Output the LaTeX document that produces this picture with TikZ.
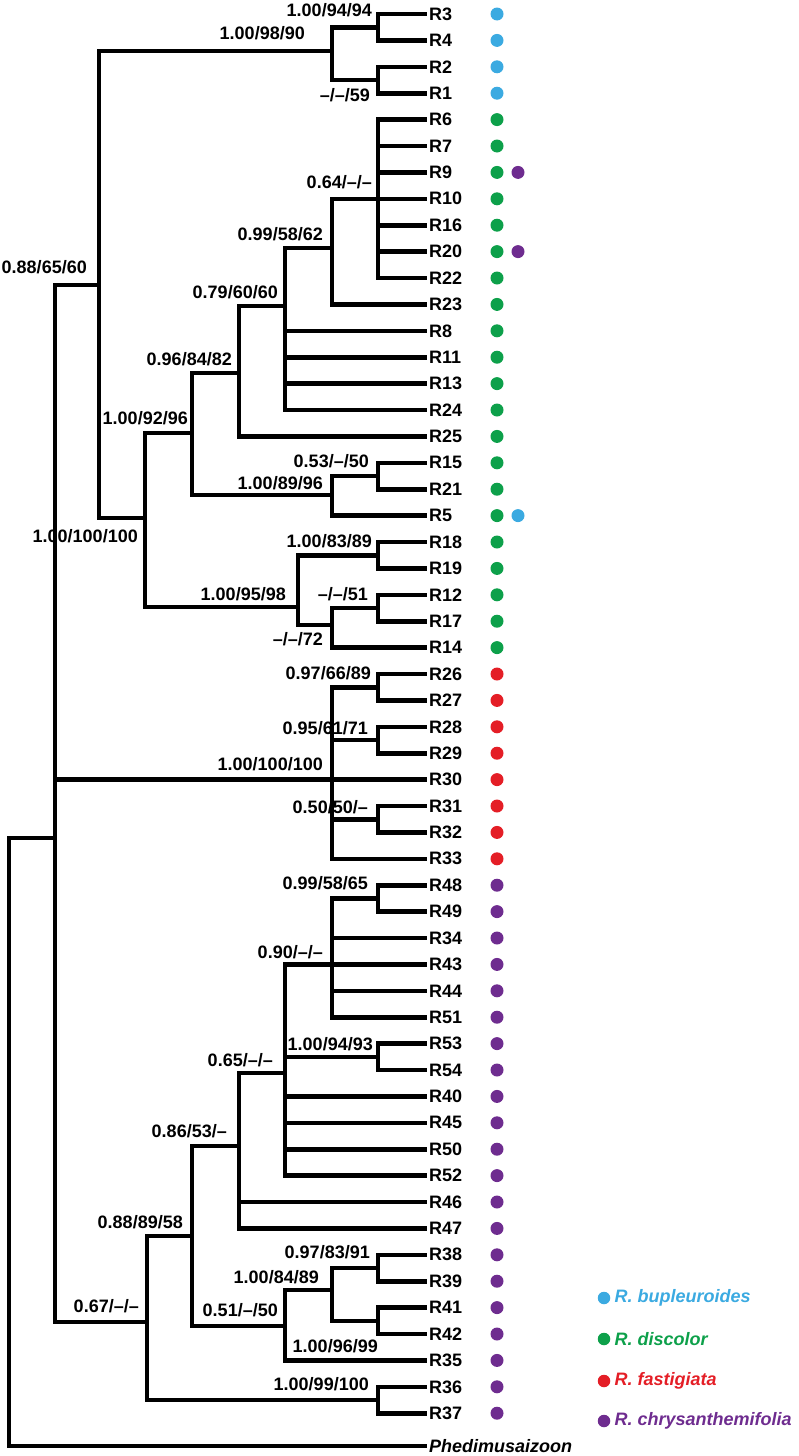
\documentclass[tikz,border=0pt]{standalone}
\usepackage{fontspec}
\setmainfont{Liberation Sans}
\usepackage{tikz}
\usetikzlibrary{positioning}
\definecolor{bupcol}{RGB}{59,170,225}
\definecolor{discol}{RGB}{13,160,74}
\definecolor{fascol}{RGB}{228,30,38}
\definecolor{chrcol}{RGB}{110,44,143}

\begin{document}
\begin{tikzpicture}[x=1pt, y=-1pt,
branch/.style = {line width=4.6pt, line join=miter},
leafnode/.style = {anchor=west, inner sep=2pt},
support/.style = {anchor=base east, inner sep=0pt},
dotnode/.style = {circle, fill=#1, inner sep=0pt, minimum size=13pt},
legend/.style = {inner sep=0pt, font=\fontsize{18}{20}\selectfont\bfseries\itshape}]
\tikzstyle{every node}=[font=\fontsize{18}{20}\selectfont\bfseries]
\useasboundingbox (0,0) rectangle (798,1456);

% junctions
\coordinate (n0) at (9,1142);
\coordinate (n1) at (55,838);
\coordinate (n2) at (99,285);
\coordinate (n3) at (332,51);
\coordinate (n4) at (378,27.2);
\coordinate (n5) at (378,80);
\coordinate (n6) at (145,518);
\coordinate (n7) at (192,433);
\coordinate (n8) at (239,373);
\coordinate (n9) at (285,306);
\coordinate (n10) at (332,248);
\coordinate (n11) at (378,198.8);
\coordinate (n12) at (332,495);
\coordinate (n13) at (378,476);
\coordinate (n14) at (298,607);
\coordinate (n15) at (378,555.2);
\coordinate (n16) at (332,625);
\coordinate (n17) at (378,608);
\coordinate (n18) at (332,779.6);
\coordinate (n19) at (378,687.2);
\coordinate (n20) at (378,740);
\coordinate (n21) at (378,819.2);
\coordinate (n22) at (147,1322);
\coordinate (n23) at (192,1236);
\coordinate (n24) at (239,1146);
\coordinate (n25) at (285,1073);
\coordinate (n26) at (332,964.4);
\coordinate (n27) at (378,898.4);
\coordinate (n28) at (378,1056.8);
\coordinate (n29) at (285,1326);
\coordinate (n30) at (332,1290);
\coordinate (n31) at (378,1268);
\coordinate (n32) at (378,1320.8);
\coordinate (n33) at (378,1400);

% leaves
\node[leafnode] (r3) at (427,14) {R3};
\node[leafnode] (r4) at (427,40.4) {R4};
\node[leafnode] (r2) at (427,66.8) {R2};
\node[leafnode] (r1) at (427,93.2) {R1};
\node[leafnode] (r6) at (427,119.6) {R6};
\node[leafnode] (r7) at (427,146) {R7};
\node[leafnode] (r9) at (427,172.4) {R9};
\node[leafnode] (r10) at (427,198.8) {R10};
\node[leafnode] (r16) at (427,225.2) {R16};
\node[leafnode] (r20) at (427,251.6) {R20};
\node[leafnode] (r22) at (427,278) {R22};
\node[leafnode] (r23) at (427,304.4) {R23};
\node[leafnode] (r8) at (427,330.8) {R8};
\node[leafnode] (r11) at (427,357.2) {R11};
\node[leafnode] (r13) at (427,383.6) {R13};
\node[leafnode] (r24) at (427,410) {R24};
\node[leafnode] (r25) at (427,436.4) {R25};
\node[leafnode] (r15) at (427,462.8) {R15};
\node[leafnode] (r21) at (427,489.2) {R21};
\node[leafnode] (r5) at (427,515.6) {R5};
\node[leafnode] (r18) at (427,542) {R18};
\node[leafnode] (r19) at (427,568.4) {R19};
\node[leafnode] (r12) at (427,594.8) {R12};
\node[leafnode] (r17) at (427,621.2) {R17};
\node[leafnode] (r14) at (427,647.6) {R14};
\node[leafnode] (r26) at (427,674) {R26};
\node[leafnode] (r27) at (427,700.4) {R27};
\node[leafnode] (r28) at (427,726.8) {R28};
\node[leafnode] (r29) at (427,753.2) {R29};
\node[leafnode] (r30) at (427,779.6) {R30};
\node[leafnode] (r31) at (427,806) {R31};
\node[leafnode] (r32) at (427,832.4) {R32};
\node[leafnode] (r33) at (427,858.8) {R33};
\node[leafnode] (r48) at (427,885.2) {R48};
\node[leafnode] (r49) at (427,911.6) {R49};
\node[leafnode] (r34) at (427,938) {R34};
\node[leafnode] (r43) at (427,964.4) {R43};
\node[leafnode] (r44) at (427,990.8) {R44};
\node[leafnode] (r51) at (427,1017.2) {R51};
\node[leafnode] (r53) at (427,1043.6) {R53};
\node[leafnode] (r54) at (427,1070) {R54};
\node[leafnode] (r40) at (427,1096.4) {R40};
\node[leafnode] (r45) at (427,1122.8) {R45};
\node[leafnode] (r50) at (427,1149.2) {R50};
\node[leafnode] (r52) at (427,1175.6) {R52};
\node[leafnode] (r46) at (427,1202) {R46};
\node[leafnode] (r47) at (427,1228.4) {R47};
\node[leafnode] (r38) at (427,1254.8) {R38};
\node[leafnode] (r39) at (427,1281.2) {R39};
\node[leafnode] (r41) at (427,1307.6) {R41};
\node[leafnode] (r42) at (427,1334) {R42};
\node[leafnode] (r35) at (427,1360.4) {R35};
\node[leafnode] (r36) at (427,1386.8) {R36};
\node[leafnode] (r37) at (427,1413.2) {R37};
\node[leafnode, font=\fontsize{18}{20}\selectfont\bfseries\itshape] (phed) at (427,1446) {Phedimusaizoon};

% support values
\node[support] (s4) at (372,16.5) {1.00/94/94};
\node[support] (s3) at (305,39.5) {1.00/98/90};
\node[support] (s5) at (370,101.5) {--/--/59};
\node[support] (s11) at (372,188.5) {0.64/--/--};
\node[support] (s10) at (323,240.5) {0.99/58/62};
\node[support] (s2) at (87,273.5) {0.88/65/60};
\node[support] (s9) at (278,298.5) {0.79/60/60};
\node[support] (s8) at (232,365.5) {0.96/84/82};
\node[support] (s7) at (188,424.5) {1.00/92/96};
\node[support] (s13) at (369,467.5) {0.53/--/50};
\node[support] (s12) at (323,489.5) {1.00/89/96};
\node[support] (s6) at (138,542.5) {1.00/100/100};
\node[support] (s15) at (372,547.5) {1.00/83/89};
\node[support] (s14) at (286,600.5) {1.00/95/98};
\node[support] (s17) at (368,600.5) {--/--/51};
\node[support] (s16) at (323,645.5) {--/--/72};
\node[support] (s19) at (371,679.5) {0.97/66/89};
\node[support] (s20) at (368,734.5) {0.95/61/71};
\node[support] (s18) at (323,770.5) {1.00/100/100};
\node[support] (s21) at (368,813.5) {0.50/50/--};
\node[support] (s27) at (368,889.5) {0.99/58/65};
\node[support] (s26) at (323,958.5) {0.90/--/--};
\node[support] (s28) at (373,1050.5) {1.00/94/93};
\node[support] (s25) at (273,1066.5) {0.65/--/--};
\node[support] (s24) at (227,1137.5) {0.86/53/--};
\node[support] (s23) at (183,1228.5) {0.88/89/58};
\node[support] (s31) at (370,1258.5) {0.97/83/91};
\node[support] (s30) at (319,1283.5) {1.00/84/89};
\node[support] (s22) at (139,1312.5) {0.67/--/--};
\node[support] (s29) at (278,1316.5) {0.51/--/50};
\node[support] (s32) at (378,1352.5) {1.00/96/99};
\node[support] (s33) at (369,1390.5) {1.00/99/100};

% branches
\draw[branch] (n0) |- (n1);
\draw[branch] (n0) |- (phed.west);
\draw[branch] (n1) |- (n2);
\draw[branch] (n1) |- (n18);
\draw[branch] (n1) |- (n22);
\draw[branch] (n2) |- (n3);
\draw[branch] (n2) |- (n6);
\draw[branch] (n3) |- (n4);
\draw[branch] (n3) |- (n5);
\draw[branch] (n4) |- (r3.west);
\draw[branch] (n4) |- (r4.west);
\draw[branch] (n5) |- (r2.west);
\draw[branch] (n5) |- (r1.west);
\draw[branch] (n6) |- (n7);
\draw[branch] (n6) |- (n14);
\draw[branch] (n7) |- (n8);
\draw[branch] (n7) |- (n12);
\draw[branch] (n8) |- (n9);
\draw[branch] (n8) |- (r25.west);
\draw[branch] (n9) |- (n10);
\draw[branch] (n9) |- (r8.west);
\draw[branch] (n9) |- (r11.west);
\draw[branch] (n9) |- (r13.west);
\draw[branch] (n9) |- (r24.west);
\draw[branch] (n10) |- (n11);
\draw[branch] (n10) |- (r23.west);
\draw[branch] (n11) |- (r6.west);
\draw[branch] (n11) |- (r7.west);
\draw[branch] (n11) |- (r9.west);
\draw[branch] (n11) |- (r10.west);
\draw[branch] (n11) |- (r16.west);
\draw[branch] (n11) |- (r20.west);
\draw[branch] (n11) |- (r22.west);
\draw[branch] (n12) |- (n13);
\draw[branch] (n12) |- (r5.west);
\draw[branch] (n13) |- (r15.west);
\draw[branch] (n13) |- (r21.west);
\draw[branch] (n14) |- (n15);
\draw[branch] (n14) |- (n16);
\draw[branch] (n15) |- (r18.west);
\draw[branch] (n15) |- (r19.west);
\draw[branch] (n16) |- (n17);
\draw[branch] (n16) |- (r14.west);
\draw[branch] (n17) |- (r12.west);
\draw[branch] (n17) |- (r17.west);
\draw[branch] (n18) |- (n19);
\draw[branch] (n18) |- (n20);
\draw[branch] (n18) |- (r30.west);
\draw[branch] (n18) |- (n21);
\draw[branch] (n18) |- (r33.west);
\draw[branch] (n19) |- (r26.west);
\draw[branch] (n19) |- (r27.west);
\draw[branch] (n20) |- (r28.west);
\draw[branch] (n20) |- (r29.west);
\draw[branch] (n21) |- (r31.west);
\draw[branch] (n21) |- (r32.west);
\draw[branch] (n22) |- (n23);
\draw[branch] (n22) |- (n33);
\draw[branch] (n23) |- (n24);
\draw[branch] (n23) |- (n29);
\draw[branch] (n24) |- (n25);
\draw[branch] (n24) |- (r46.west);
\draw[branch] (n24) |- (r47.west);
\draw[branch] (n25) |- (n26);
\draw[branch] (n25) |- (n28);
\draw[branch] (n25) |- (r40.west);
\draw[branch] (n25) |- (r45.west);
\draw[branch] (n25) |- (r50.west);
\draw[branch] (n25) |- (r52.west);
\draw[branch] (n26) |- (n27);
\draw[branch] (n26) |- (r34.west);
\draw[branch] (n26) |- (r43.west);
\draw[branch] (n26) |- (r44.west);
\draw[branch] (n26) |- (r51.west);
\draw[branch] (n27) |- (r48.west);
\draw[branch] (n27) |- (r49.west);
\draw[branch] (n28) |- (r53.west);
\draw[branch] (n28) |- (r54.west);
\draw[branch] (n29) |- (n30);
\draw[branch] (n29) |- (r35.west);
\draw[branch] (n30) |- (n31);
\draw[branch] (n30) |- (n32);
\draw[branch] (n31) |- (r38.west);
\draw[branch] (n31) |- (r39.west);
\draw[branch] (n32) |- (r41.west);
\draw[branch] (n32) |- (r42.west);
\draw[branch] (n33) |- (r36.west);
\draw[branch] (n33) |- (r37.west);

% species dots
\node[dotnode=bupcol] (d3) at (497,14) {};
\node[dotnode=bupcol] (d4) at (497,40.4) {};
\node[dotnode=bupcol] (d2) at (497,66.8) {};
\node[dotnode=bupcol] (d1) at (497,93.2) {};
\node[dotnode=discol] (d6) at (497,119.6) {};
\node[dotnode=discol] (d7) at (497,146) {};
\node[dotnode=discol] (d9) at (497,172.4) {};
\node[dotnode=chrcol] (e9) at (518,172.4) {};
\node[dotnode=discol] (d10) at (497,198.8) {};
\node[dotnode=discol] (d16) at (497,225.2) {};
\node[dotnode=discol] (d20) at (497,251.6) {};
\node[dotnode=chrcol] (e20) at (518,251.6) {};
\node[dotnode=discol] (d22) at (497,278) {};
\node[dotnode=discol] (d23) at (497,304.4) {};
\node[dotnode=discol] (d8) at (497,330.8) {};
\node[dotnode=discol] (d11) at (497,357.2) {};
\node[dotnode=discol] (d13) at (497,383.6) {};
\node[dotnode=discol] (d24) at (497,410) {};
\node[dotnode=discol] (d25) at (497,436.4) {};
\node[dotnode=discol] (d15) at (497,462.8) {};
\node[dotnode=discol] (d21) at (497,489.2) {};
\node[dotnode=discol] (d5) at (497,515.6) {};
\node[dotnode=bupcol] (e5) at (518,515.6) {};
\node[dotnode=discol] (d18) at (497,542) {};
\node[dotnode=discol] (d19) at (497,568.4) {};
\node[dotnode=discol] (d12) at (497,594.8) {};
\node[dotnode=discol] (d17) at (497,621.2) {};
\node[dotnode=discol] (d14) at (497,647.6) {};
\node[dotnode=fascol] (d26) at (497,674) {};
\node[dotnode=fascol] (d27) at (497,700.4) {};
\node[dotnode=fascol] (d28) at (497,726.8) {};
\node[dotnode=fascol] (d29) at (497,753.2) {};
\node[dotnode=fascol] (d30) at (497,779.6) {};
\node[dotnode=fascol] (d31) at (497,806) {};
\node[dotnode=fascol] (d32) at (497,832.4) {};
\node[dotnode=fascol] (d33) at (497,858.8) {};
\node[dotnode=chrcol] (d48) at (497,885.2) {};
\node[dotnode=chrcol] (d49) at (497,911.6) {};
\node[dotnode=chrcol] (d34) at (497,938) {};
\node[dotnode=chrcol] (d43) at (497,964.4) {};
\node[dotnode=chrcol] (d44) at (497,990.8) {};
\node[dotnode=chrcol] (d51) at (497,1017.2) {};
\node[dotnode=chrcol] (d53) at (497,1043.6) {};
\node[dotnode=chrcol] (d54) at (497,1070) {};
\node[dotnode=chrcol] (d40) at (497,1096.4) {};
\node[dotnode=chrcol] (d45) at (497,1122.8) {};
\node[dotnode=chrcol] (d50) at (497,1149.2) {};
\node[dotnode=chrcol] (d52) at (497,1175.6) {};
\node[dotnode=chrcol] (d46) at (497,1202) {};
\node[dotnode=chrcol] (d47) at (497,1228.4) {};
\node[dotnode=chrcol] (d38) at (497,1254.8) {};
\node[dotnode=chrcol] (d39) at (497,1281.2) {};
\node[dotnode=chrcol] (d41) at (497,1307.6) {};
\node[dotnode=chrcol] (d42) at (497,1334) {};
\node[dotnode=chrcol] (d35) at (497,1360.4) {};
\node[dotnode=chrcol] (d36) at (497,1386.8) {};
\node[dotnode=chrcol] (d37) at (497,1413.2) {};

% legend
\node[dotnode=bupcol, minimum size=12.5pt] (k1) at (604,1298) {};
\node[dotnode=discol, minimum size=12.5pt] (k2) at (604,1339) {};
\node[dotnode=fascol, minimum size=12.5pt] (k3) at (604,1381) {};
\node[dotnode=chrcol, minimum size=12.5pt] (k4) at (604,1421) {};
\node[legend, text=bupcol, right=4pt of k1] (t1) {R. bupleuroides};
\node[legend, text=discol, right=4pt of k2] (t2) {R. discolor};
\node[legend, text=fascol, right=4pt of k3] (t3) {R. fastigiata};
\node[legend, text=chrcol, right=4pt of k4] (t4) {R. chrysanthemifolia};
\end{tikzpicture}
\end{document}
